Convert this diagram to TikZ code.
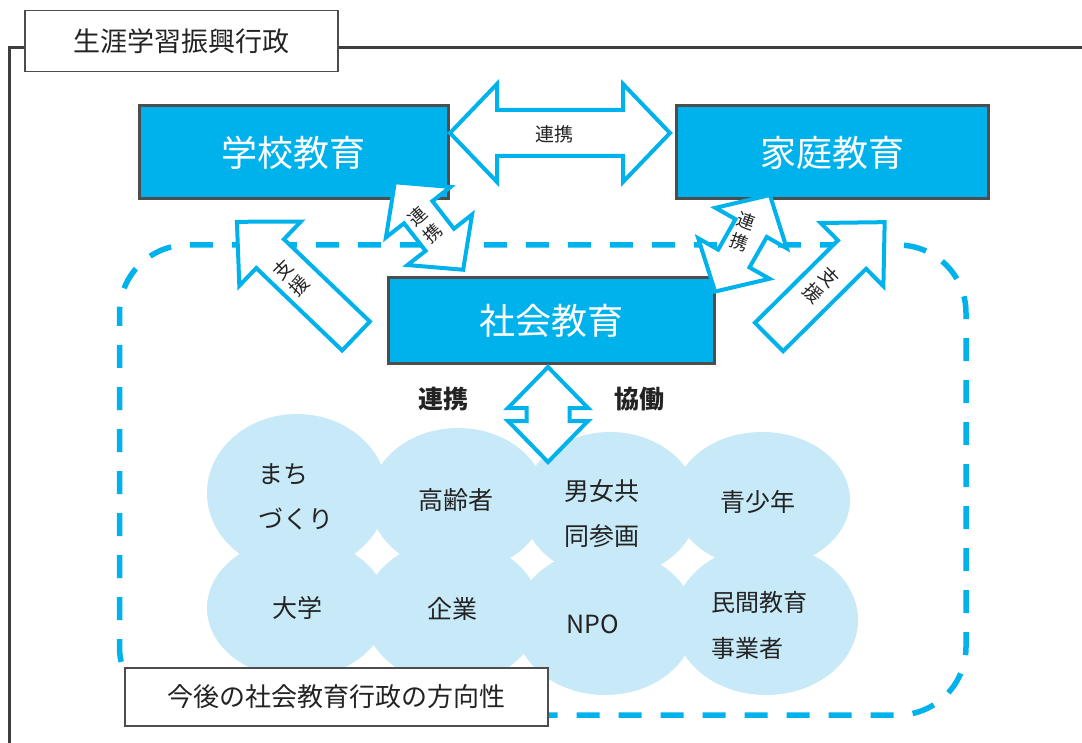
\documentclass[tikz,border=0pt]{standalone}
\usepackage{fontspec}
\setmainfont{Noto Sans CJK JP}
\definecolor{cy}{RGB}{0,178,236}
\definecolor{bd}{RGB}{77,77,77}
\definecolor{cl}{RGB}{200,233,248}
\definecolor{tx}{RGB}{35,35,35}
\newcommand\DArr[7]{\draw[blockarrow,shift={(#1,#2)},rotate=#3]
 ({-#4/2},0) -- ({-#4/2+#5},#6) -- ({-#4/2+#5},#7) -- ({#4/2-#5},#7) -- ({#4/2-#5},#6) -- ({#4/2},0) -- ({#4/2-#5},-#6) -- ({#4/2-#5},-#7) -- ({-#4/2+#5},-#7) -- ({-#4/2+#5},-#6) -- cycle;}
\newcommand\SArr[7]{\draw[blockarrow,shift={(#1,#2)},rotate=#3]
 (0,-#7) -- ({#4-#5},-#7) -- ({#4-#5},-#6) -- (#4,0) -- ({#4-#5},#6) -- ({#4-#5},#7) -- (0,#7) -- cycle;}
\tikzset{
  frameline/.style={draw=bd!80!black, line width=2.5pt},
  titlebox/.style={draw=bd, line width=1.5pt, fill=white, text=tx, inner sep=0pt, font=\fontsize{27}{30}\selectfont},
  edubox/.style={draw=bd, line width=3pt, fill=cy, text=white, inner sep=0pt, font=\fontsize{36}{40}\selectfont},
  blockarrow/.style={draw=cy, fill=white, line width=4pt, line join=miter},
  cloud/.style={fill=cl},
  cloudtext/.style={text=tx, font=\fontsize{25}{45}\selectfont, align=left},
  arrowtext/.style={text=tx, font=\fontsize{19}{23}\selectfont, align=center, inner sep=0pt},
  sidetext/.style={text=tx, font=\bfseries\fontsize{25}{28}\selectfont},
}
\begin{document}
\begin{tikzpicture}[x=1pt,y=-1pt]
\useasboundingbox (0,0) rectangle (1082,743);
% outer frame
\node[titlebox, minimum width=313pt, minimum height=61pt] (title) at (181.5,41.2) {生涯学習振興行政};
\coordinate (fl) at (9.5,47.5);
\coordinate (fr) at (1090,47.5);
\coordinate (fb) at (9.5,750);
\draw[frameline] (title.west |- fl) -- (fl) -- (fb);
\draw[frameline] (title.east |- fr) -- (fr);
% dashed region
\draw[cy, line width=5.5pt, dash pattern=on 23pt off 19pt, dash phase=10pt, rounded corners=68pt] (119.5,245) rectangle (966,715);
% clouds
\fill[cloud] (297,493) ellipse [x radius=90pt, y radius=79pt];
\fill[cloud] (458,500) ellipse [x radius=88pt, y radius=72pt];
\fill[cloud] (610,505) ellipse [x radius=88pt, y radius=73pt];
\fill[cloud] (762,500) ellipse [x radius=88pt, y radius=68pt];
\fill[cloud] (297,608) ellipse [x radius=90pt, y radius=70pt];
\fill[cloud] (452,612) ellipse [x radius=88pt, y radius=72pt];
\fill[cloud] (605,622) ellipse [x radius=90pt, y radius=73pt];
\fill[cloud] (766,620) ellipse [x radius=92pt, y radius=75pt];
\node[cloudtext, anchor=west] (machi) at (255,497) {まち\\づくり};
\node[cloudtext] (kourei) at (456,500) {高齢者};
\node[cloudtext, anchor=west] (danjo) at (561,514) {男女共\\同参画};
\node[cloudtext] (seishou) at (758,502) {青少年};
\node[cloudtext] (daigaku) at (297,608) {大学};
\node[cloudtext] (kigyou) at (452,609) {企業};
\node[cloudtext] (npo) at (593,624) {NPO};
\node[cloudtext, anchor=west, font=\fontsize{24}{46}\selectfont] (minkan) at (708,625) {民間教育\\事業者};
% boxes
\node[edubox, minimum width=309pt, minimum height=93pt] (school) at (293.5,152.5) {学校教育};
\node[edubox, minimum width=312pt, minimum height=93pt] (home) at (832,152.5) {家庭教育};
\node[edubox, minimum width=326pt, minimum height=86pt] (social) at (551,321) {社会教育};
% arrows
\DArr{560}{133}{0}{220}{47}{49}{23}
\node[arrowtext] (l1) at (554,134) {連携};
\DArr{429}{226}{-52}{111}{38}{41}{18}
\node[arrowtext, font=\fontsize{18}{22}\selectfont, rotate=42] (l2) at (425,225) {連\\携};
\DArr{742.5}{243.3}{-119.6}{111}{38}{41}{18}
\node[arrowtext, font=\fontsize{18}{22}\selectfont, rotate=-20] (l3) at (743,232) {連\\携};
\SArr{356}{336}{136.2}{165}{46}{44.5}{20}
\node[arrowtext, rotate=45] (l4) at (291,278) {支\\援};
\SArr{769}{337}{44.8}{163}{46}{44.5}{20}
\node[arrowtext, rotate=-45] (l5) at (821,285) {支\\援};
\DArr{548}{414.5}{90}{95}{41}{40}{21.5}
\node[sidetext] (l6) at (443,399) {連携};
\node[sidetext] (l7) at (639,399) {協働};
% bottom label
\node[titlebox, line width=2.5pt, minimum width=423pt, minimum height=58pt, font=\fontsize{26}{30}\selectfont] (future) at (336.5,697) {今後の社会教育行政の方向性};
\end{tikzpicture}
\end{document}
